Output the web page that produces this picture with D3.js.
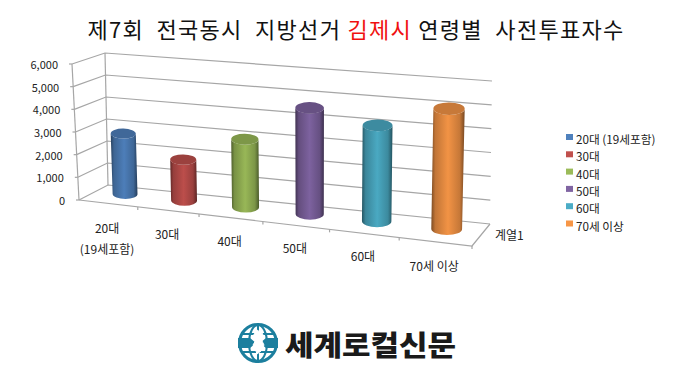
<!DOCTYPE html>
<html>
<head>
<meta charset="utf-8">
<title>김제시 연령별 사전투표자수</title>
<script src="https://d3js.org/d3.v7.min.js"></script>
<style>
body { margin: 0; background: #fff; }
text { font-family: "Noto Sans CJK KR", "Noto Sans", sans-serif; fill: #222; }
.grid { fill: none; stroke: #a6a6a6; stroke-width: 1.2; }
</style>
</head>
<body>
<script>
var categories = ["20대", "30대", "40대", "50대", "60대", "70세 이상"];
var axisLabels = [["20대", "(19세포함)"], ["30대"], ["40대"], ["50대"], ["60대"], ["70세 이상"]];
var legendLabels = ["20대 (19세포함)", "30대", "40대", "50대", "60대", "70세 이상"];
var values = [2700, 1800, 2950, 4550, 4050, 5000];
var colors = ["#4f81bd", "#c0504d", "#9bbb59", "#8064a2", "#4bacc6", "#f79646"];
var ticks = [0, 1000, 2000, 3000, 4000, 5000, 6000];

var width = 699, height = 376;
var svg = d3.select("body").append("svg").attr("width", width).attr("height", height);

// box corners of the 3d chart, [front/back][left/right][floor/top]
var corners = {
    fl0: [79, 200], fl1: [72, 64], bl0: [108, 185], bl1: [105, 53],
    fr0: [472, 246], fr1: [478, 97], br0: [490, 224], br1: [492, 81]
};
var u = d3.scaleLinear().domain([0, categories.length]).range([0, 1]);
var v = d3.scaleLinear().domain([0, 6000]).range([0, 1]);

function warp(t) { return t / (t + 1.137 * (1 - t)); } // perspective along the front edge
function mix(a, b, t) { return [a[0] + (b[0] - a[0]) * t, a[1] + (b[1] - a[1]) * t]; }

// i = category position, d = depth 0..1, val = value
function project(i, d, val) {
    var s = warp(u(i)), h = v(val), c = corners;
    var f = mix(mix(c.fl0, c.fr0, s), mix(c.fl1, c.fr1, s), h);
    var b = mix(mix(c.bl0, c.br0, s), mix(c.bl1, c.br1, s), h);
    return mix(f, b, d);
}

var line = d3.line();
var n = categories.length;

// walls
var grid = svg.append("g");
ticks.forEach(function(t) {
    grid.append("path").attr("class", "grid")
        .attr("d", line([project(0, 0, t), project(0, 1, t), project(n, 1, t)]));
    var p = project(0, 0, t);
    grid.append("path").attr("class", "grid").attr("d", line([[p[0] - 3, p[1]], p]));
    svg.append("text").attr("x", p[0] - 14).attr("y", p[1] + 1)
        .attr("dy", "0.35em").attr("text-anchor", "end").attr("font-size", 11)
        .text(d3.format(",")(t));
});
grid.append("path").attr("class", "grid").attr("d", line([project(0, 0, 6000), project(0, 0, 0)]));
grid.append("path").attr("class", "grid").attr("d", line([project(0, 1, 6000), project(0, 1, 0)]));
grid.append("path").attr("class", "grid").attr("d", line([project(0, 0, 0), project(n, 0, 0), project(n, 1, 0)]));
d3.range(1, n + 1).forEach(function(i) {
    var p = project(i, 0, 0);
    grid.append("path").attr("class", "grid").attr("d", line([p, [p[0], p[1] + 3]]));
});

// cylinders
var defs = svg.append("defs");
colors.forEach(function(col, i) {
    var g = defs.append("linearGradient").attr("id", "cyl" + i);
    var base = d3.color(col);
    [[0, 0.5], [0.12, 0.78], [0.5, 0.98], [0.85, 0.8], [1, 0.48]].forEach(function(st) {
        g.append("stop").attr("offset", st[0])
            .attr("stop-color", d3.rgb(base.r * st[1], base.g * st[1], base.b * st[1]));
    });
});

var r = 0.215, depth = 0.6;
values.forEach(function(val, i) {
    var c = i + 0.5;
    var bl = project(c - r, depth, 0), br = project(c + r, depth, 0);
    var tl = project(c - r, depth, val), tr = project(c + r, depth, val);
    var rxB = (br[0] - bl[0]) / 2, rxT = (tr[0] - tl[0]) / 2;
    var angle = Math.atan2(tr[1] - tl[1], tr[0] - tl[0]) * 180 / Math.PI * 0.15;
    var ryB = rxB * 0.4, ryT = rxT * 0.4;
    // flatten the ends so the cap sits level
    var cy = (tl[1] + tr[1]) / 2, by = (bl[1] + br[1]) / 2;
    tl = [tl[0], cy]; tr = [tr[0], cy]; bl = [bl[0], by]; br = [br[0], by];
    svg.append("path")
        .attr("fill", "url(#cyl" + i + ")")
        .attr("d", "M" + tl + "L" + bl + "A" + rxB + "," + ryB + " " + angle + " 0 0 " + br + "L" + tr +
            "A" + rxT + "," + ryT + " " + angle + " 0 1 " + tl + "Z");
    svg.append("ellipse")
        .attr("cx", (tl[0] + tr[0]) / 2).attr("cy", cy)
        .attr("rx", rxT).attr("ry", ryT)
        .attr("transform", "rotate(" + angle + " " + (tl[0] + tr[0]) / 2 + " " + cy + ")")
        .attr("fill", d3.rgb(colors[i]).darker(0.6));
});

// category labels
var labelDy = [29, 35, 42, 49, 57, 67];
axisLabels.forEach(function(lines, i) {
    var p = project(i + 0.5, 0, 0);
    lines.forEach(function(s, j) {
        svg.append("text").attr("x", p[0] - 1).attr("y", 200 + labelDy[i] + j * 21)
            .attr("dy", "0.35em").attr("text-anchor", "middle").attr("font-size", 12)
            .text(s);
    });
});
svg.append("text").attr("x", 495).attr("y", 236).attr("dy", "0.35em")
    .attr("font-size", 12).text("계열1");

// legend
legendLabels.forEach(function(s, i) {
    var y = 137 + i * 17.3;
    svg.append("rect").attr("x", 566).attr("y", y - 3).attr("width", 7).attr("height", 6)
        .attr("fill", colors[i]);
    svg.append("text").attr("x", 576).attr("y", y + 3).attr("dy", "0.35em")
        .attr("font-size", 11.7).text(s);
});

// title
var title = svg.append("text").attr("x", 356).attr("y", 38).attr("text-anchor", "middle")
    .attr("font-size", 22).attr("letter-spacing", 1.3).style("white-space", "pre");
title.append("tspan").style("fill", "#111").text("제7회  전국동시  지방선거 ");
title.append("tspan").style("fill", "#f01010").text("김제시");
title.append("tspan").style("fill", "#111").text(" 연령별  사전투표자수");

// logo
var logo = svg.append("g").attr("transform", "translate(258,343)");
var teal = "#1c7f9e";
logo.append("circle").attr("r", 18.5).attr("fill", "#fff").attr("stroke", teal).attr("stroke-width", 3);
logo.append("ellipse").attr("rx", 9).attr("ry", 18).attr("fill", "none").attr("stroke", teal).attr("stroke-width", 2);
logo.append("path").attr("d", "M-17,-9H17M-17,9H17M0,-18V18").attr("stroke", teal).attr("stroke-width", 2);
logo.append("path").attr("fill", teal)
    .attr("d", "M-20,-5H-8L-2,0L-8,5H-20ZM20,-5H8L2,0L8,5H20Z");
logo.append("path").attr("fill", "#fff").attr("stroke", "#fff")
    .attr("d", "M-1,-13L5,-9L3,-4L6,2L3,8L-1,11L-3,5L-5,2L-2,-3L-5,-7Z");
svg.append("text").attr("x", 285).attr("y", 356).attr("font-size", 28).attr("font-weight", 900)
    .attr("textLength", 171).attr("lengthAdjust", "spacingAndGlyphs")
    .style("fill", "#1a1a1a").text("세계로컬신문");
</script>
</body>
</html>
